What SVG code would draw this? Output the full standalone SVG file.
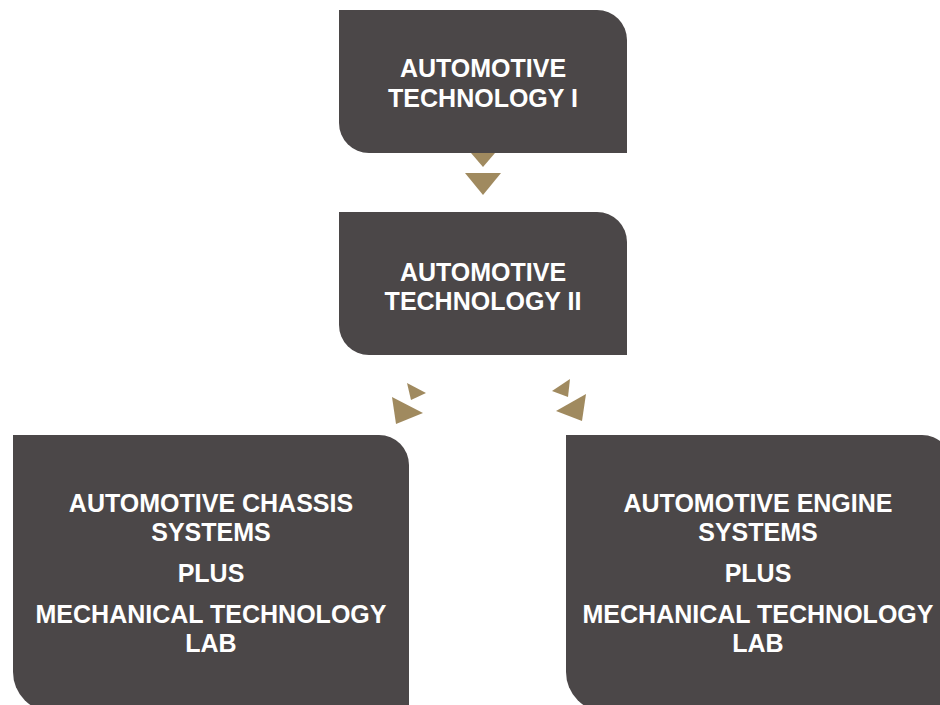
<svg xmlns="http://www.w3.org/2000/svg" width="940" height="705" viewBox="0 0 940 705">
<style>
.box{fill:#4b4748}
.arr{fill:#a08a5f}
.t{font-family:"Liberation Sans",Arial,sans-serif;font-weight:bold;font-size:25px;fill:#ffffff;text-anchor:middle}
</style>
<rect width="940" height="705" fill="#ffffff"/>
<g id="connectors">
<polygon class="arr" points="471,153 495,153 483,167"/>
<polygon class="arr" points="465,173 501,173 483,195"/>
<polygon class="arr" points="407,383 426,393 411,400"/>
<polygon class="arr" points="392,397 423,413 396,424"/>
<polygon class="arr" points="570,379 552,391 568,397"/>
<polygon class="arr" points="586,394 556,411 582,421"/>
</g>
<g id="node-tech1">
<path class="box" d="M339,10 H597 A30,30 0 0 1 627,40 V153 H369 A30,30 0 0 1 339,123 Z"/>
<text class="t" x="483" y="77">AUTOMOTIVE</text>
<text class="t" x="483" y="107">TECHNOLOGY I</text>
</g>
<g id="node-tech2">
<path class="box" d="M339,212 H597 A30,30 0 0 1 627,242 V355 H369 A30,30 0 0 1 339,325 Z"/>
<text class="t" x="483" y="281">AUTOMOTIVE</text>
<text class="t" x="483" y="310">TECHNOLOGY II</text>
</g>
<g id="node-chassis">
<path class="box" d="M13,435 H379 A30,30 0 0 1 409,465 V712 H53 A40,40 0 0 1 13,672 Z"/>
<text class="t" x="211" y="512">AUTOMOTIVE CHASSIS</text>
<text class="t" x="211" y="541">SYSTEMS</text>
<text class="t" x="211" y="582">PLUS</text>
<text class="t" x="211" y="623">MECHANICAL TECHNOLOGY</text>
<text class="t" x="211" y="652">LAB</text>
</g>
<g id="node-engine">
<path class="box" d="M566,435 H922 A30,30 0 0 1 952,465 V712 H606 A40,40 0 0 1 566,672 Z"/>
<text class="t" x="758" y="512">AUTOMOTIVE ENGINE</text>
<text class="t" x="758" y="541">SYSTEMS</text>
<text class="t" x="758" y="582">PLUS</text>
<text class="t" x="758" y="623">MECHANICAL TECHNOLOGY</text>
<text class="t" x="758" y="652">LAB</text>
</g>
</svg>
